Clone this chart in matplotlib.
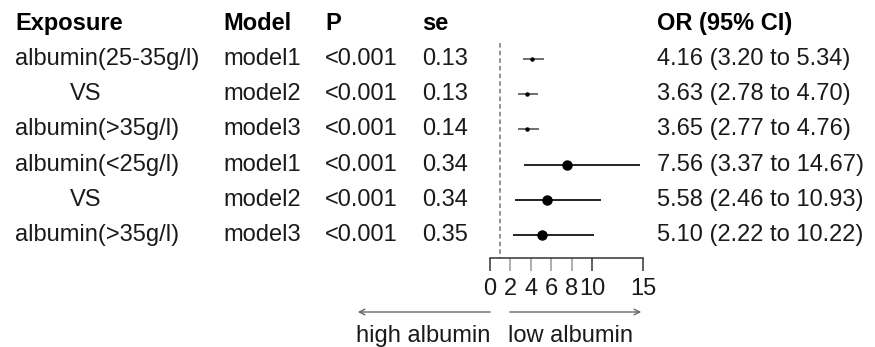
import matplotlib
matplotlib.use("Agg")
from matplotlib import pyplot as plt
from matplotlib.transforms import blended_transform_factory

plt.rcParams['font.family'] = ['Liberation Sans', 'DejaVu Sans']

# table columns
exposure = ["albumin(25-35g/l)", "VS", "albumin(>35g/l)",
            "albumin(<25g/l)", "VS", "albumin(>35g/l)"]
model = ["model1", "model2", "model3", "model1", "model2", "model3"]
p_val = ["<0.001"] * 6
se = [0.13, 0.13, 0.14, 0.34, 0.34, 0.35]
or_est = [4.16, 3.63, 3.65, 7.56, 5.58, 5.10]
ci_lo = [3.20, 2.78, 2.77, 3.37, 2.46, 2.22]
ci_hi = [5.34, 4.70, 4.76, 14.67, 10.93, 10.22]
headers = ["Exposure", "Model", "P", "se", "OR (95% CI)"]
xticks = [0, 2, 4, 6, 8, 10, 15]

W, H = 875, 347
fig = plt.figure(figsize=(W / 100, H / 100), dpi=100)

# forest panel: 0 -> x=490px, 15 -> x=643px, axis line at y=258px
ax = fig.add_axes([490 / W, 1 - 258 / H, (643 - 490) / W, 258 / H])
ax.set_xlim(0, 15)
ax.set_ylim(5.653, -1.676)
for s in ['top', 'left', 'right']:
    ax.spines[s].set_visible(False)
ax.spines['bottom'].set_linewidth(1.1)
ax.spines['bottom'].set_color('#333333')
ax.set_yticks([])
ax.set_xticks([0, 10, 15])
ax.set_xticks([2, 4, 6, 8], minor=True)
ax.set_xticklabels(["0", "10", "15"])
ax.set_xticklabels(["2", "4", "6", "8"], minor=True)
ax.tick_params(axis='x', which='both', direction='out', length=9.5, width=1.1,
               labelsize=17, pad=5, labelcolor='#1a1a1a')
ax.tick_params(axis='x', which='major', color='#333333')
ax.tick_params(axis='x', which='minor', color='#999999')
ax.patch.set_alpha(0)

ax.plot([1, 1], [-0.45, 5.653], color='#777777', lw=1.1, ls=(0, (3, 2)),
        clip_on=False)

rows = list(range(len(or_est)))
for i in rows:
    big = se[i] > 0.2
    ax.plot([ci_lo[i], ci_hi[i]], [i, i], color='#222222' if big else '#555555',
            lw=1.4 if big else 1.2, solid_capstyle='butt', clip_on=False)
    ax.plot(or_est[i], i, 'o', color='black', ms=6.5 if big else 2.2,
            clip_on=False)

# text columns
tr = blended_transform_factory(fig.transFigure, ax.transData)
col_x = [15, 223, 325, 422, 657]
hy = -1.02
for hx, h in zip(col_x, headers):
    fig.text(hx / W, hy, h, transform=tr, fontsize=17, fontweight='bold',
             va='center', ha='left', color='black')

for i in rows:
    ex = exposure[i]
    xx = 70 if ex == "VS" else 15
    fig.text(xx / W, i, ex, transform=tr, fontsize=17, va='center', color='#1a1a1a')
    fig.text(col_x[1] / W, i, model[i], transform=tr, fontsize=17, va='center', color='#1a1a1a')
    fig.text(col_x[2] / W, i, p_val[i], transform=tr, fontsize=17, va='center', color='#1a1a1a')
    fig.text(col_x[3] / W, i, "%.2f" % se[i], transform=tr, fontsize=17, va='center', color='#1a1a1a')
    fig.text(col_x[4] / W, i, "%.2f (%.2f to %.2f)" % (or_est[i], ci_lo[i], ci_hi[i]),
             transform=tr, fontsize=17, va='center', color='#1a1a1a')

# direction arrows
ay = 1 - 312 / H
fig.add_artist(matplotlib.patches.FancyArrowPatch(
    (493 / W, ay), (355 / W, ay), transform=fig.transFigure,
    arrowstyle='->', mutation_scale=10, color='#666666', lw=1))
fig.add_artist(matplotlib.patches.FancyArrowPatch(
    (507 / W, ay), (644 / W, ay), transform=fig.transFigure,
    arrowstyle='->', mutation_scale=10, color='#666666', lw=1))
fig.text(423 / W, 1 - 336 / H, "high albumin", ha='center', va='center',
         fontsize=17, color='#1a1a1a')
fig.text(570 / W, 1 - 336 / H, "low albumin", ha='center', va='center',
         fontsize=17, color='#1a1a1a')

fig.savefig("out.png", dpi=100, facecolor='white')
